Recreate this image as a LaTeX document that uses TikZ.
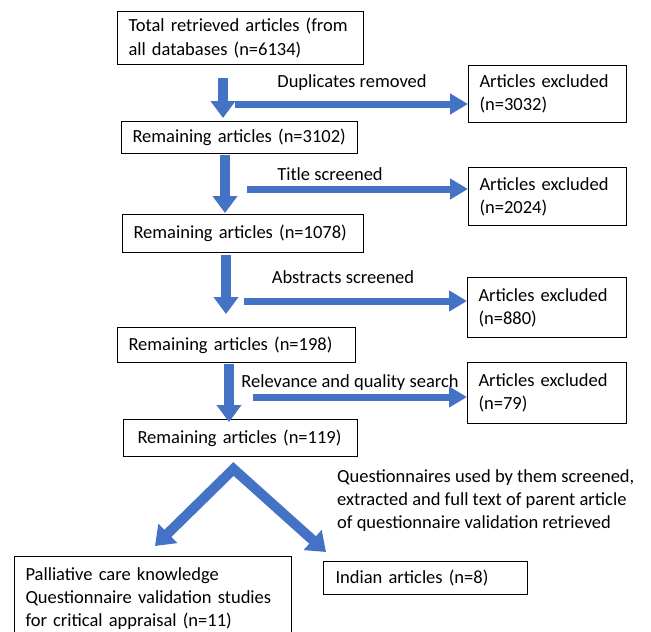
\documentclass[tikz,border=0pt]{standalone}
\usepackage{fontspec}
\setmainfont{Carlito}
\usetikzlibrary{arrows.meta}
\definecolor{flowblue}{RGB}{68,114,196}
\begin{document}
\begin{tikzpicture}[x=1pt, y=-1pt,
	box/.style={draw, line width=1pt, anchor=north west, align=left, inner xsep=11pt, inner ysep=0pt, font=\fontsize{18.5}{23}\selectfont},
	vflow/.style={draw=flowblue, line width=10pt, -{Triangle[width=24pt,length=17pt]}},
	hflow/.style={draw=flowblue, line width=7pt, -{Triangle[width=20pt,length=18pt]}},
	dflow/.style={draw=flowblue, line width=10pt, line join=miter, {Triangle[width=26pt,length=18pt]}-{Triangle[width=26pt,length=18pt]}},
	lbl/.style={inner sep=0pt, font=\fontsize{18.5}{23}\selectfont}]
	\useasboundingbox (0,0) rectangle (651,632);
	\clip (0,0) rectangle (651,632);

	\node[box, text width=224pt, minimum height=53pt, font=\fontsize{18.5}{24}\selectfont](total) at (117,11){Total retrieved articles (from\\all databases (n=6134)};
	\node[box, text width=214pt, minimum height=32pt](remone) at (121,121){Remaining articles (n=3102)};
	\node[box, text width=219pt, minimum height=38pt](remtwo) at (122,214){Remaining articles (n=1078)};
	\node[box, text width=216pt, minimum height=35pt](remthree) at (117,327){Remaining articles (n=198)};
	\node[box, text width=212pt, minimum height=37pt, inner xsep=14pt, text width=206pt](remfour) at (123,419){Remaining articles (n=119)};
	\node[box, text width=136pt, minimum height=57pt](exone) at (468,65){Articles excluded\\(n=3032)};
	\node[box, text width=136pt, minimum height=58pt](extwo) at (468,167){Articles excluded\\(n=2024)};
	\node[box, text width=137pt, minimum height=60pt](exthree) at (467,277){Articles excluded\\(n=880)};
	\node[box, text width=137pt, minimum height=61pt](exfour) at (467,362){Articles excluded\\(n=79)};
	\node[box, text width=255pt, minimum height=84pt](palliative) at (14,556){Palliative care knowledge\\Questionnaire validation studies\\for critical appraisal (n=11)};
	\node[box, text width=180pt, minimum height=33pt, inner xsep=12pt](indian) at (323,561){Indian articles (n=8)};

	\node[lbl](duplbl) at (352,83){Duplicates removed};
	\node[lbl](titlelbl) at (330,174){Title screened};
	\node[lbl](abslbl) at (343,277){Abstracts screened};
	\node[lbl](rellbl) at (350,383){Relevance and quality search};
	\node[lbl, anchor=west, align=left](questlbl) at (337,501){Questionnaires used by them screened,\\extracted and full text of parent article\\of questionnaire validation retrieved};

	\coordinate (vone) at (223,78);
	\coordinate (vtwo) at (225,155);
	\coordinate (vthree) at (226,255);
	\coordinate (vfour) at (229,364);
	\coordinate (hone) at (235,104);
	\coordinate (htwo) at (247,189);
	\coordinate (hthree) at (244,301);
	\coordinate (hfour) at (253,397);
	\coordinate (split) at ([xshift=-7pt,yshift=-12pt]remfour.south);

	\draw[vflow] (vone) -- ([yshift=3pt]vone |- remone.north);
	\draw[vflow] (vtwo) -- ([yshift=1pt]vtwo |- remtwo.north);
	\draw[vflow] (vthree) -- ([yshift=13pt]vthree |- remthree.north);
	\draw[vflow] (vfour) -- ([yshift=-3pt]vfour |- remfour.north);
	\draw[hflow] (hone) -- (hone -| exone.west);
	\draw[hflow] (htwo) -- (htwo -| extwo.west);
	\draw[hflow] (hthree) -- (hthree -| exthree.west);
	\draw[hflow] (hfour) -- (hfour -| exfour.west);
	\draw[dflow] ([xshift=2pt,yshift=10pt]palliative.north) -- (split) -- ([xshift=3pt,yshift=9pt]indian.north west);
\end{tikzpicture}
\end{document}
